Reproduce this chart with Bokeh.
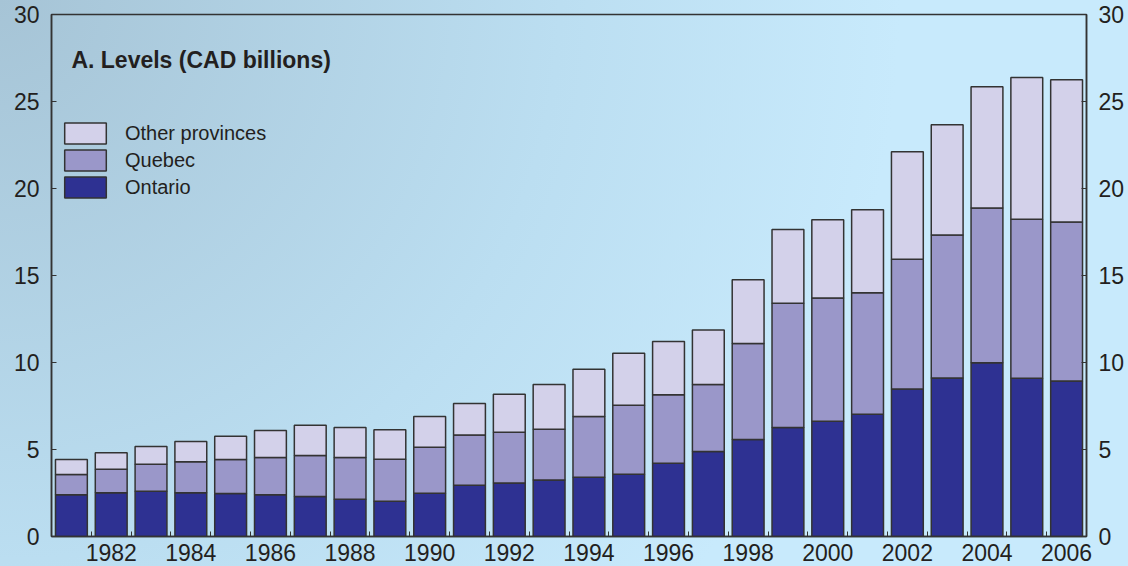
from bokeh.plotting import figure
from bokeh.models import (LinearAxis, FixedTicker, Legend, LegendItem, Label,
                          ColumnDataSource, Range1d)
from bokeh.embed import file_html
from bokeh.resources import INLINE

years = list(range(1981, 2007))
ontario = [2.40, 2.51, 2.60, 2.51, 2.47, 2.40, 2.30, 2.14, 2.03, 2.49, 2.95, 3.08, 3.24,
           3.41, 3.58, 4.21, 4.88, 5.57, 6.26, 6.62, 7.03, 8.48, 9.11, 9.99, 9.09, 8.94]
quebec = [1.16, 1.36, 1.55, 1.78, 1.95, 2.14, 2.35, 2.40, 2.41, 2.64, 2.89, 2.91, 2.92,
          3.48, 3.96, 3.93, 3.85, 5.52, 7.14, 7.09, 6.98, 7.45, 8.22, 8.89, 9.14, 9.14]
other = [0.86, 0.94, 1.02, 1.17, 1.34, 1.55, 1.74, 1.72, 1.69, 1.76, 1.80, 2.18, 2.57,
         2.72, 2.99, 3.06, 3.14, 3.67, 4.25, 4.50, 4.77, 6.18, 6.33, 6.97, 8.15, 8.17]

series = ["ontario", "quebec", "other"]
series_labels = ["Ontario", "Quebec", "Other provinces"]
colors = ["#2e3192", "#9a97c9", "#d3d1ea"]
y_ticks = [0, 5, 10, 15, 20, 25, 30]
x_label_years = list(range(1982, 2007, 2))
title_text = "A. Levels (CAD billions)"

FONT = "Liberation Sans"
TXT = "#231f20"
LINE = "#333333"

src = ColumnDataSource(dict(year=years, ontario=ontario, quebec=quebec, other=other))

p = figure(width=1128, height=566,
           x_range=Range1d(1980.5, 2006.5), y_range=Range1d(0, 30),
           output_backend="svg", toolbar_location=None,
           min_border_left=51, min_border_right=42, min_border_top=14, min_border_bottom=30,
           background_fill_color=None, border_fill_color=None,
           outline_line_color=LINE, outline_line_width=1.5)
p.xgrid.visible = False
p.ygrid.visible = False

rs = p.vbar_stack(series, x="year", width=0.8, source=src,
                  fill_color=colors, line_color=LINE, line_width=1.5)

# x axis
xa = p.xaxis[0]
xa.ticker = FixedTicker(ticks=x_label_years, minor_ticks=[y + 0.5 for y in years[:-1]])
xa.major_tick_in = 0
xa.major_tick_out = 0
xa.minor_tick_in = 5
xa.minor_tick_out = 0
xa.minor_tick_line_color = LINE
xa.axis_line_color = LINE
xa.axis_line_width = 1.5
xa.major_label_standoff = 7
xa.major_label_text_font = FONT
xa.major_label_text_font_size = "23px"
xa.major_label_text_color = TXT


def style_y(ax):
    ax.ticker = FixedTicker(ticks=y_ticks)
    ax.major_tick_in = 5
    ax.major_tick_out = 0
    ax.minor_tick_in = 0
    ax.minor_tick_out = 0
    ax.major_tick_line_color = LINE
    ax.axis_line_color = LINE
    ax.axis_line_width = 1.5
    ax.major_label_standoff = 12
    ax.major_label_text_font = FONT
    ax.major_label_text_font_size = "23px"
    ax.major_label_text_color = TXT


style_y(p.yaxis[0])
ra = LinearAxis()
style_y(ra)
p.add_layout(ra, "right")

# panel title
p.add_layout(Label(x=1981.0, y=27.4, text=title_text, text_align="left",
                   text_baseline="alphabetic", text_font=FONT, text_font_size="23px",
                   text_font_style="bold", text_color=TXT))

legend = Legend(items=[LegendItem(label=series_labels[i], renderers=[rs[i]]) for i in (2, 1, 0)],
                location=(8, 336), glyph_width=52, glyph_height=26, label_height=26,
                spacing=1, padding=0, margin=0, label_standoff=14,
                label_text_font=FONT, label_text_font_size="20px", label_text_color=TXT,
                background_fill_alpha=0, border_line_alpha=0)
p.add_layout(legend)

html = file_html(p, INLINE)
css = ("<style>html{min-height:100%;}"
       "body{background:radial-gradient(circle at 0 0, #a6c4d6 0px, #bbdef1 560px, #c8eafc 900px) fixed;}"
       "</style>")
html = html.replace("</head>", css + "</head>", 1)
open("out.html", "w").write(html)
